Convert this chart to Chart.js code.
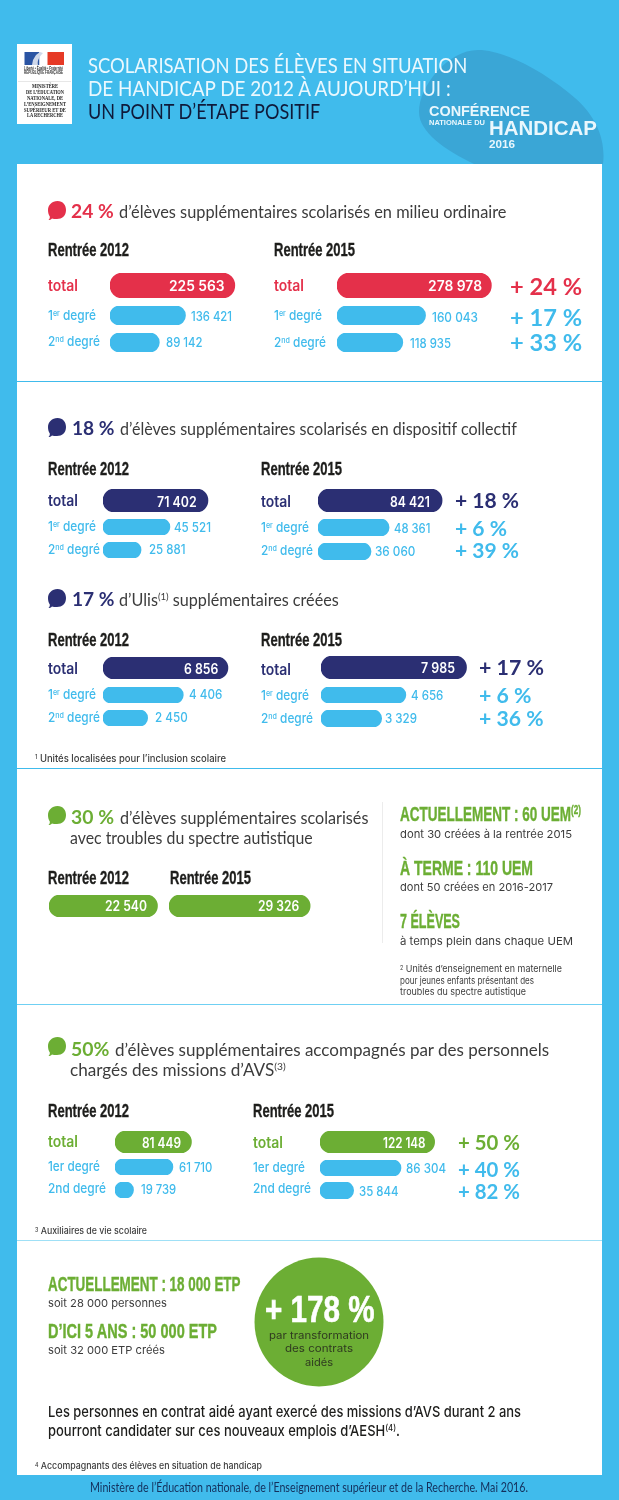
<!DOCTYPE html>
<html lang="fr"><head><meta charset="utf-8"><title>Scolarisation des élèves en situation de handicap</title>
<script src="https://cdn.jsdelivr.net/npm/chart.js@4"></script>
<style>
html,body{margin:0;padding:0;background:#40bbec;overflow:hidden}
#root{position:relative;width:619px;height:1500px;overflow:hidden;background:#40bbec}
#panel{position:absolute;left:17px;top:164px;width:585px;height:1311px;background:#fff}
.t{position:absolute;white-space:nowrap;transform-origin:0 50%;line-height:1;z-index:5}
.t sup{font-size:.6em;line-height:0;vertical-align:.5em}
.r{position:absolute;z-index:1}
canvas.c{position:absolute;z-index:2}
svg{position:absolute;left:0;top:0}
</style></head><body><div id="root">
<svg width="619" height="1500" style="z-index:0"><path d="M478 50 C505 50 545 72 575 98 C596 116 606 140 603 164 L474 164 C445 150 419 132 419 112 C419 86 448 50 478 50 Z" fill="#3aa6d6"/></svg>
<div id="panel"></div>
<svg width="619" height="1500" style="z-index:1" id="shapes"></svg>
</div>
<script>
// ---- Data ----
const rowLabels = ["total", "1<sup>er</sup> degré", "2<sup>nd</sup> degré"];
const rowLabelsPlain = ["total", "1er degré", "2nd degré"];
const ordinaire2012 = [225563, 136421, 89142];
const ordinaire2015 = [278978, 160043, 118935];
const ordinaireHausse = ["+ 24 %", "+ 17 %", "+ 33 %"];
const collectif2012 = [71402, 45521, 25881];
const collectif2015 = [84421, 48361, 36060];
const collectifHausse = ["+ 18 %", "+ 6 %", "+ 39 %"];
const ulis2012 = [6856, 4406, 2450];
const ulis2015 = [7985, 4656, 3329];
const ulisHausse = ["+ 17 %", "+ 6 %", "+ 36 %"];
const autisme = [22540, 29326];
const avs2012 = [81449, 61710, 19739];
const avs2015 = [122148, 86304, 35844];
const avsHausse = ["+ 50 %", "+ 40 %", "+ 82 %"];

const RED="#e4304a", NAVY="#2b2f73", GREEN="#6cae34", SKY="#40bbec", GREY="#3c3c3c", INK="#1d1d1b";
const FUT="Lato, sans-serif", GOT="Inter, sans-serif", NAR="'Liberation Sans Narrow', sans-serif", ARI="'Liberation Sans', sans-serif";
const root=document.getElementById('root');

function T(html,x,y,w,font,size,weight,color,stroke){
  const e=document.createElement('div');e.className='t';e.innerHTML=html;
  e.style.cssText=`left:${x}px;top:${y}px;font-family:${font};font-size:${size}px;font-weight:${weight};color:${color}`+(stroke?`;-webkit-text-stroke:${stroke}px ${color}`:'');
  root.appendChild(e);
  const natural=e.getBoundingClientRect().width;
  const sx=w?w/natural:1;
  e.style.transform=`translateY(-50%) scaleX(${sx})`;
  return e;
}
const fmt=v=>String(v).replace(/\B(?=(\d{3})+$)/g,'\u00a0');

function bar(value,x,top,h,color,axisMax,width){
  const c=document.createElement('canvas');c.className='c';c.width=width;c.height=h;
  c.style.left=x+'px';c.style.top=top+'px';root.appendChild(c);
  new Chart(c,{type:'bar',data:{labels:[''],datasets:[{data:[value],backgroundColor:color,borderRadius:999,borderSkipped:false,barPercentage:1,categoryPercentage:1}]},
   options:{indexAxis:'y',responsive:false,animation:false,layout:{padding:0},
    plugins:{legend:{display:false},tooltip:{enabled:false}},
    scales:{x:{type:'linear',display:false,min:0,max:axisMax},y:{type:'category',display:false}}}});
}
function line(x,y,w,h,col){const d=document.createElement('div');d.className='r';d.style.cssText=`left:${x}px;top:${y}px;width:${w}px;height:${h}px;background:${col}`;root.appendChild(d);}
function bubble(x,y,col){
  const s=document.getElementById('shapes');
  s.insertAdjacentHTML('beforeend',`<path transform="translate(${x} ${y})" fill="${col}" d="M9.5 0 C15 0 18 4 18 9 C18 15 14 18 9 18 C7 18 5 18 4 17.5 C3 18.5 1.5 19 0.5 19 C1.5 18 2 17 1.8 15.5 C0.5 13.5 0 11.5 0 9 C0 4 4 0 9.5 0 Z"/>`);
}
function rentree(txt,x,y){T(txt,x,y,81,NAR,18,700,INK,0.35);}

// ---- Header ----
const sh=document.getElementById('shapes');
line(17,44,55,80,'#fff');
sh.style.zIndex=3;
sh.insertAdjacentHTML('beforeend','<rect x="24.5" y="52" width="15" height="13" fill="#2a54a3"/><rect x="39.5" y="52" width="8" height="13" fill="#fff"/><rect x="47.5" y="52" width="16.5" height="13" fill="#e63a26"/><path d="M38 65 C37 61 39 57 43 53 L40 52 L36 55 L33 60 L32 65 Z" fill="#cfd8ea"/><rect x="18" y="81" width="53" height="0.7" fill="#ddd"/>');
T("Liberté • Égalité • Fraternité",24,68,39,ARI,5,700,'#333');
T("RÉPUBLIQUE FRANÇAISE",24,73,39,ARI,4.5,700,'#333');
["MINISTÈRE","DE L’ÉDUCATION","NATIONALE, DE","L’ENSEIGNEMENT","SUPÉRIEUR ET DE","LA RECHERCHE"].forEach((s,i)=>{
  const ws=[26,38,36,42,42,36];const yy=[87,93,99,105,110.5,116];
  T(s,44.5-ws[i]/2,yy[i],ws[i],"'Liberation Serif',serif",5.4,700,'#222');
});
T("SCOLARISATION DES ÉLÈVES EN SITUATION",88.4,64,379.4,FUT,21,400,'#eaf8fe');
T("DE HANDICAP DE 2012 À AUJOURD’HUI :",88.4,87,362.6,FUT,21,400,'#eaf8fe');
T("UN POINT D’ÉTAPE POSITIF",88.4,110,232.2,FUT,21,400,'#0f1a3a');
T("CONFÉRENCE",429,110.5,101,ARI,14.5,700,'#e9f7fd');
T("NATIONALE DU",429,122.5,56,ARI,8,700,'#e9f7fd');
T("HANDICAP",489,128,108,ARI,20,700,'#e9f7fd');
T("2016",489,143.5,26,ARI,10.5,700,'#e9f7fd');

// ---- Column helper ----
function column(o){
  o.values.forEach((v,i)=>{
    bar(v,o.barX,o.tops[i],o.hs[i],i===0?o.color:SKY,o.axisMax,o.axisW);
    T(rowLabels[i],o.labelX,o.labelY[i],o.labelW[i],GOT,i===0?15.5:13.5,i===0?600:500,i===0?o.color:SKY);
    const s=o.valueX[i], w=o.valueW[i];
    T(fmt(v),s,o.valueY[i],w,GOT,i===0?14:13,i===0?600:500,i===0?'#fff':SKY);
  });
  if(o.hausse) o.hausse.forEach((p,i)=>T(p,o.pctX[i],o.pctY[i],o.pctW[i],FUT,o.pctSize,700,i===0?o.color:SKY));
}

// ---- Section 1 ----
bubble(48,201,RED);
T("24 %",71,211,42.7,FUT,18,700,RED);
T("d’élèves supplémentaires scolarisés en milieu ordinaire",119,211,387.5,FUT,17,400,GREY);
rentree("Rentrée 2012",47.5,250);rentree("Rentrée 2015",274.3,250);
column({values:ordinaire2012,barX:110,tops:[273,306,333],hs:[25,19,19],color:RED,axisMax:300000,axisW:166,
 labelX:47.8,labelY:[286,315.5,342],labelW:[30,48,52],
 valueX:[168.6,191,166],valueW:[55.6,41,36.5],valueY:[285.7,316,342]});
column({values:ordinaire2015,barX:337,tops:[273,306,333],hs:[25,19,19],color:RED,axisMax:300000,axisW:166,
 labelX:274.4,labelY:[286,316,342.5],labelW:[30,48,52],
 valueX:[427.6,432,410],valueW:[54,46,41],valueY:[285.7,317,343],
 hausse:ordinaireHausse,pctX:[510,510,510],pctY:[285.5,316.7,342],pctW:[72,72,72],pctSize:23});
line(17,381,585,1.3,SKY);

// ---- Section 2 ----
bubble(48,418,NAVY);
T("18 %",71.5,428,42.5,FUT,18,700,NAVY);
T("d’élèves supplémentaires scolarisés en dispositif collectif",119.6,428,396.8,FUT,17,400,GREY);
rentree("Rentrée 2012",47.5,469);rentree("Rentrée 2015",261,469);
column({values:collectif2012,barX:103,tops:[489,519,542],hs:[23,16,16],color:NAVY,axisMax:100000,axisW:147,
 labelX:47.8,labelY:[501,527,549.5],labelW:[30,48,52],
 valueX:[157,174,149],valueW:[39.6,37,36.5],valueY:[501.7,526.7,549]});
column({values:collectif2015,barX:317.5,tops:[489,519,543],hs:[23,17,17],color:NAVY,axisMax:100000,axisW:147,
 labelX:261,labelY:[502,528,551],labelW:[30,48,52],
 valueX:[389.7,393.6,374.6],valueW:[39.8,36.4,40.4],valueY:[501.7,528,551],
 hausse:collectifHausse,pctX:[455,455,455],pctY:[500,528,550],pctW:[64,52,64],pctSize:20});

bubble(48,589,NAVY);
T("17 %",71.5,599,42.5,FUT,18,700,NAVY);
T("d’Ulis<sup>(1)</sup> supplémentaires créées",119,599,219.7,FUT,17,400,GREY);
rentree("Rentrée 2012",47.5,640);rentree("Rentrée 2015",261,640);
column({values:ulis2012,barX:103,tops:[657,687,710],hs:[22,16,16],color:NAVY,axisMax:9000,axisW:164,
 labelX:47.8,labelY:[669,694.5,717.5],labelW:[30,48,52],
 valueX:[184,188.7,154.8],valueW:[34.3,33.3,32.7],valueY:[669,694.3,717.3]});
column({values:ulis2015,barX:320.5,tops:[656,687,710],hs:[23,16,17],color:NAVY,axisMax:9000,axisW:164,
 labelX:261,labelY:[670,695.5,718.5],labelW:[30,48,52],
 valueX:[421,410.6,385],valueW:[34,32.4,32],valueY:[668,695.3,718],
 hausse:ulisHausse,pctX:[479,478.5,478.5],pctY:[667,695,718],pctW:[65,52.5,64.5],pctSize:20});
T("<sup>1</sup> Unités localisées pour l’inclusion scolaire",35,758,191,GOT,10,500,GREY);
line(17,768,585,1.3,SKY);

// ---- Section 3 ----
bubble(48,806,GREEN);
T("30 %",71,816.7,43,FUT,18,700,GREEN);
T("d’élèves supplémentaires scolarisés",119.6,816.7,248.4,FUT,17,400,GREY);
T("avec troubles du spectre autistique",70.3,836.7,242.7,FUT,17,400,GREY);
rentree("Rentrée 2012",47.5,878);rentree("Rentrée 2015",170,878);
bar(autisme[0],49,895,22,GREEN,32000,154);
T(fmt(autisme[0]),105,906,42,GOT,14,600,'#fff');
bar(autisme[1],169,895,22,GREEN,32000,154);
T(fmt(autisme[1]),257.8,906,41.2,GOT,14,600,'#fff');
line(382,802,1,141,'#ececec');
T("ACTUELLEMENT : 60 UEM<sup>(2)</sup>",400,813,181,NAR,21,700,GREEN,0.4);
T("dont 30 créées à la rentrée 2015",400,834,172,GOT,11,400,GREY);
T("À TERME : 110 UEM",400,867,133,NAR,21,700,GREEN,0.4);
T("dont 50 créées en 2016-2017",400,887,153,GOT,11,400,GREY);
T("7 ÉLÈVES",400,920,60,NAR,21,700,GREEN,0.4);
T("à temps plein dans chaque UEM",400,941,173,GOT,11,400,GREY);
T("<sup>2</sup> Unités d’enseignement en maternelle",400,969,162,GOT,9.3,400,GREY);
T("pour jeunes enfants présentant des",400,981,134,GOT,9.3,400,GREY);
T("troubles du spectre autistique",400,992,126,GOT,9.3,400,GREY);
line(17,1004,585,1.3,'#6fd0f3');

// ---- Section 4 ----
bubble(48,1037,GREEN);
T("50%",71,1049,38.4,FUT,18,700,GREEN);
T("d’élèves supplémentaires accompagnés par des personnels",115.3,1049,434.2,FUT,17,400,GREY);
T("chargés des missions d’AVS<sup>(3)</sup>",70.3,1069,215.7,FUT,17,400,GREY);
rentree("Rentrée 2012",47.5,1111);rentree("Rentrée 2015",252.5,1111);
rowLabels.splice(0,3,...rowLabelsPlain);
column({values:avs2012,barX:114.5,tops:[1131,1159,1182],hs:[22,16,16],color:GREEN,axisMax:130000,axisW:122,
 labelX:47.8,labelY:[1142,1167,1189],labelW:[30,52,58],
 valueX:[142,179,140.5],valueW:[39,33.4,35.2],valueY:[1143,1166.7,1189]});
column({values:avs2015,barX:319.5,tops:[1131,1160,1182],hs:[22,16,17],color:GREEN,axisMax:130000,axisW:122,
 labelX:252.7,labelY:[1143,1168,1189],labelW:[30,52,58],
 valueX:[383,406,358.5],valueW:[42.6,40,39.5],valueY:[1143,1168,1190.5],
 hausse:avsHausse,pctX:[458,458,458],pctY:[1142,1168.5,1191],pctW:[62,62,62],pctSize:20});
T("<sup>3</sup> Auxiliaires de vie scolaire",35,1230.7,112,GOT,9.3,500,GREY);
line(17,1240,585,1.3,'#9fe0f6');

// ---- Section 5 ----
T("ACTUELLEMENT : 18 000 ETP",47.5,1283,192.5,NAR,21,700,GREEN,0.4);
T("soit 28 000 personnes",47.5,1303,119,GOT,11,400,GREY);
T("D’ICI 5 ANS : 50 000 ETP",47.5,1330,169,NAR,21,700,GREEN,0.4);
T("soit 32 000 ETP créés",47.5,1349.7,117,GOT,11,400,GREY);
sh.insertAdjacentHTML('beforeend',`<circle cx="319" cy="1322" r="64.5" fill="${GREEN}"/>`);
T("+ 178 %",264.5,1308.5,109.5,NAR,37,700,'#fff',0.6);
T("par transformation",269,1335.5,100,GOT,10.5,400,'#2f3a20');
T("des contrats",285,1349,68,GOT,10.5,400,'#2f3a20');
T("aidés",305,1363,28,GOT,10.5,400,'#2f3a20');
T("Les personnes en contrat aidé ayant exercé des missions d’AVS durant 2 ans",48,1411,473,GOT,15,500,INK);
T("pourront candidater sur ces nouveaux emplois d’AESH<sup>(4)</sup>.",48,1430,352,GOT,15,500,INK);
T("<sup>4</sup> Accompagnants des élèves en situation de handicap",35,1465.7,227,GOT,9.3,500,GREY);
T("Ministère de l’Éducation nationale, de l’Enseignement supérieur et de la Recherche. Mai 2016.",90,1488,438,FUT,12.5,400,'#14305c');
</script></body></html>
